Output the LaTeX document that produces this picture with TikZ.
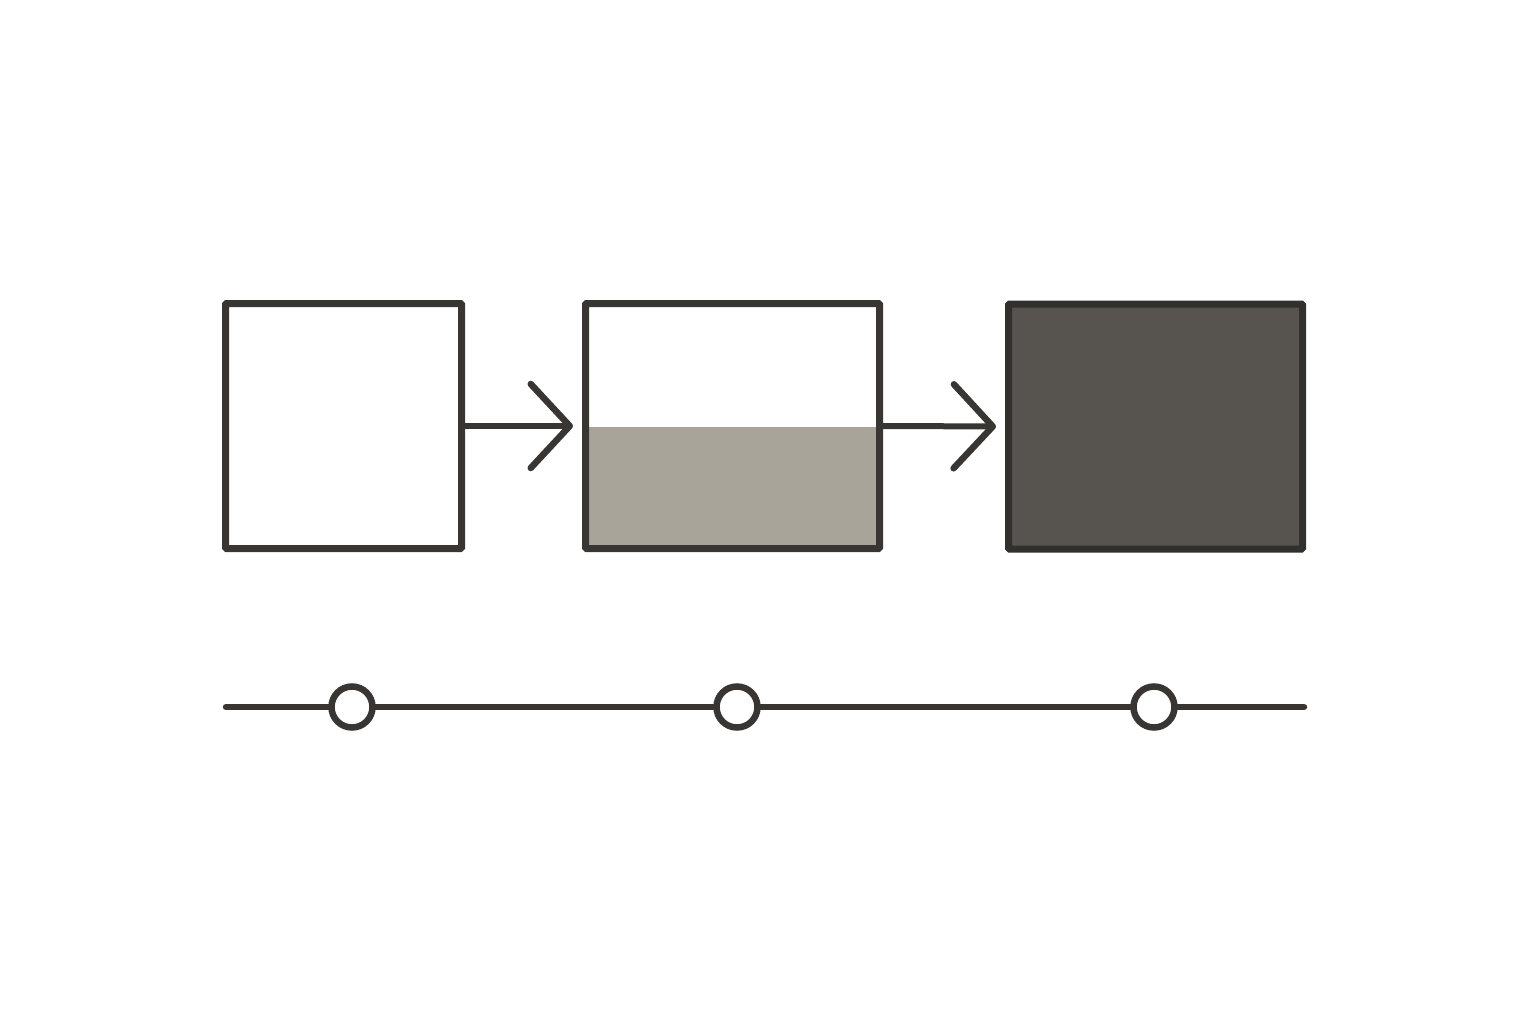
\documentclass[tikz,border=0pt]{standalone}
\usepackage{xcolor}
\usepackage{tikz}
\usetikzlibrary{arrows.meta}

\definecolor{inkline}{HTML}{383532}
\definecolor{halfgray}{HTML}{A9A49A}
\definecolor{fullgray}{HTML}{57544F}

\begin{document}
\begin{tikzpicture}[x=1pt,y=-1pt,
box/.style={draw=inkline,line width=7pt,rectangle,inner sep=0pt,
  rounded corners=1pt,minimum width=294pt,minimum height=245pt},
conn/.style={draw=inkline,line width=6pt,line cap=round,shorten >=9pt,
  -{Straight Barb[length=39pt,width=84pt,line width=6.5pt,round]}},
rail/.style={draw=inkline,line width=6.5pt,line cap=round},
tick/.style={circle,draw=inkline,fill=white,line width=6.5pt,inner sep=0pt,
  minimum size=41pt}
]
\useasboundingbox (0,0) rectangle (1536,1024);

\path (343.5,426) node[box,minimum width=236pt] (empty) {}
      (732.5,426) node[box,path picture={
        \fill[halfgray] ([yshift=-1pt]path picture bounding box.west)
          rectangle (path picture bounding box.south east);}] (half) {}
      (1155.5,426.5) node[box,fill=fullgray,draw=inkline!90!black] (full) {};

\draw[conn] (empty.east) -- (half.west);
\draw[conn] (half.east) -- (full.west);

\coordinate (tstart) at (226,707);
\coordinate (tend) at (1304,707);
\path (352,707) node[tick] (t1) {}
      (737,707) node[tick] (t2) {}
      (1154,707) node[tick] (t3) {};
\draw[rail] (tstart) -- (t1) (t1) -- (t2) (t2) -- (t3) (t3) -- (tend);
\end{tikzpicture}
\end{document}
